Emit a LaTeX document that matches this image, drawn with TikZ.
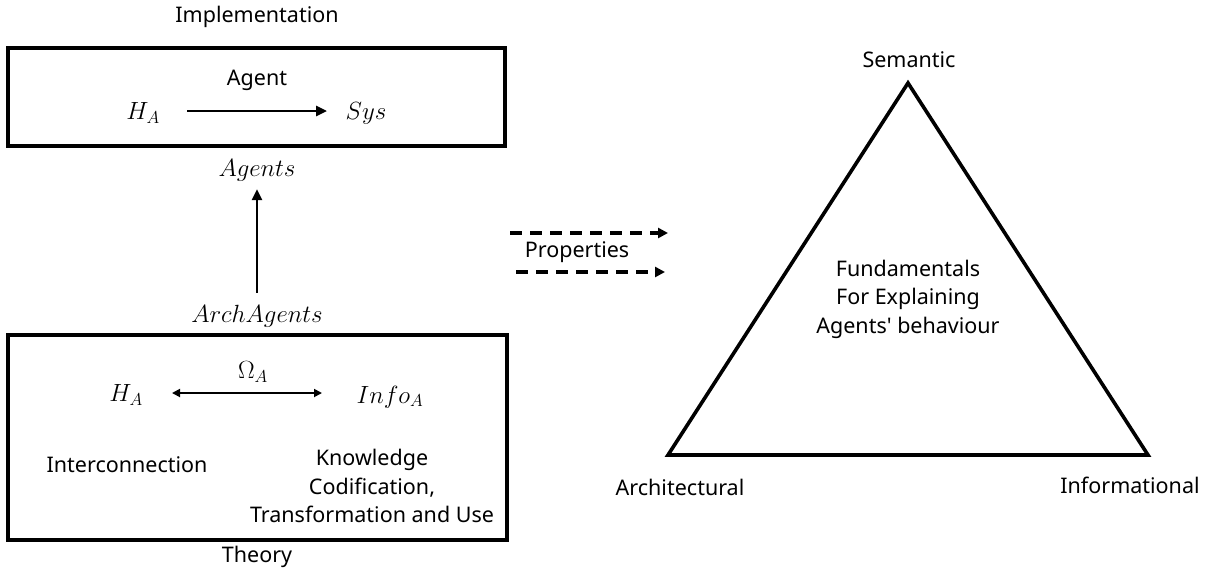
\documentclass[tikz,border=0pt]{standalone}
\usepackage{fontspec}
\setmainfont{Noto Sans}
\usetikzlibrary{arrows.meta}
\tikzset{
  lbl/.style={inner sep=0pt, font=\fontsize{21.5}{28.5}\selectfont, align=center},
  mth/.style={inner sep=0pt, font=\fontsize{24}{28}\selectfont},
  box/.style={draw, line width=3.6pt, inner sep=0pt},
  solidarr/.style={line width=2.6pt, -{Triangle[length=11pt,width=10pt]}},
  twoarr/.style={line width=1.8pt, {Triangle[length=8pt,width=8pt]}-{Triangle[length=8pt,width=8pt]}},
  dasharr/.style={line width=3.2pt, dash pattern=on 12pt off 8pt, -{Triangle[length=10pt,width=10pt]}},
}
\begin{document}
\begin{tikzpicture}[x=1pt,y=-1pt]
\useasboundingbox (0,0) rectangle (1210,571);
% boxes
\node[box, minimum width=497pt, minimum height=98pt] (topbox) at (256.5,97) {};
\node[box, minimum width=499pt, minimum height=205pt] (botbox) at (257.5,437.5) {};
% top part
\node[lbl] (impl) at (257,17) {Implementation};
\node[lbl] (agentlbl) at (257,80) {Agent};
\node[mth] (ha1) at (143,113) {$H_A$};
\node[mth] (sys) at (366,113) {$Sys$};
\coordinate (a1s) at (187,111);
\coordinate (a1e) at (327,111);
\draw[solidarr] (a1s) -- (a1e);
\node[mth] (agents) at (257,170) {$Agents$};
\node[mth] (arch) at (257,316) {$ArchAgents$};
\draw[solidarr, line width=2.4pt, shorten <=12pt, shorten >=8pt] (arch.north) -- (agents.south);
% bottom part
\node[mth] (omega) at (253,372) {$\Omega_A$};
\node[mth] (ha2) at (126,395) {$H_A$};
\node[mth] (info) at (390,397) {$Info_A$};
\coordinate (b1s) at (172,393);
\coordinate (b1e) at (322,393);
\draw[twoarr] (b1s) -- (b1e);
\node[lbl] (inter) at (127,465) {Interconnection};
\node[lbl] (know) at (372,486) {Knowledge\\Codification,\\Transformation and Use};
\node[lbl] (theory) at (257,557) {Theory};
% middle
\node[lbl] (props) at (577,252) {Properties};
\coordinate (d1s) at (510,233);
\coordinate (d1e) at (668,233);
\coordinate (d2s) at (516,272);
\coordinate (d2e) at (665,272);
\draw[dasharr] (d1s) -- (d1e);
\draw[dasharr] (d2s) -- (d2e);
% triangle
\coordinate (apex) at (908,83);
\coordinate (bl) at (668,455);
\coordinate (br) at (1148,455);
\draw[line width=3.6pt, line join=miter] (apex) -- (bl) -- (br) -- cycle;
\node[lbl] (sem) at (909,60) {Semantic};
\node[lbl] (archi) at (680,487) {Architectural};
\node[lbl] (infor) at (1130,485) {Informational};
\node[lbl] (fund) at (908,299) {Fundamentals\\For Explaining\\Agents\textquotesingle{} behaviour};
\end{tikzpicture}
\end{document}
